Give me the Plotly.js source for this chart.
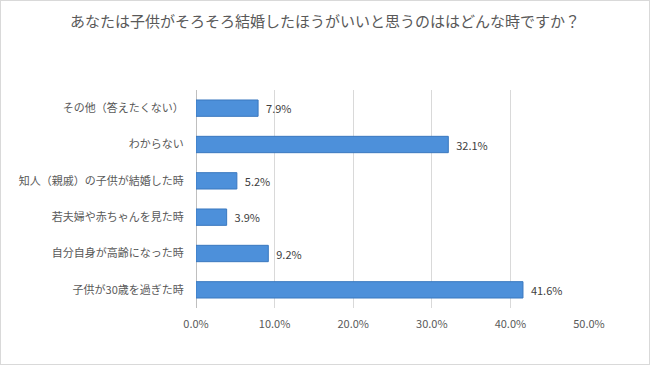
<!DOCTYPE html>
<html><head><meta charset="utf-8">
<script src="https://cdn.plot.ly/plotly-3.0.1.min.js"></script>
<style>body{margin:0;background:#fff}#wrap{position:relative;width:650px;height:365px}#frame{position:absolute;left:0;top:0;width:648px;height:363px;border:1px solid #d9d9d9;pointer-events:none}</style>
</head><body><div id="wrap"><div id="chart" style="width:650px;height:365px"></div><div id="frame"></div></div>
<script>
const categories = ["その他（答えたくない）","わからない","知人（親戚）の子供が結婚した時","若夫婦や赤ちゃんを見た時","自分自身が高齢になった時","子供が30歳を過ぎた時"];
const values = [7.9, 32.1, 5.2, 3.9, 9.2, 41.6];
const tickVals = [0,10,20,30,40,50];
const tickText = ["0.0%","10.0%","20.0%","30.0%","40.0%","50.0%"];
const titleText = "あなたは子供がそろそろ結婚したほうがいいと思うのははどんな時ですか？";
const FONT = "'Noto Sans CJK JP', 'Noto Sans', sans-serif";
Plotly.newPlot('chart', [{
  type:'bar', orientation:'h', x: values, y: categories,
  text: values.map(v=>'\u00a0\u00a0'+v.toFixed(1)+'%'), textposition:'outside', cliponaxis:false,
  textfont:{size:11,color:'#404040',family:FONT},
  marker:{color:'#4d90da', line:{color:'#3a78bf', width:1}},
  hoverinfo:'none'
}], {
  width:650, height:365,
  margin:{l:196,r:61,t:90,b:57},
  bargap:0.55,
  paper_bgcolor:'#fff', plot_bgcolor:'#fff',
  font:{family:FONT,color:'#595959',size:11},
  title:{text:titleText, x:0.5, xanchor:'center', y:0.94, yanchor:'middle', font:{size:15,color:'#595959',family:FONT}},
  xaxis:{range:[0,50], tickvals:tickVals, ticktext:tickText, showgrid:true, gridcolor:'#d9d9d9', gridwidth:1,
    zeroline:true, zerolinecolor:'#bfbfbf', showline:false, ticks:'outside', ticklen:6, tickcolor:'rgba(0,0,0,0)', tickfont:{size:11,color:'#595959'}, fixedrange:true},
  yaxis:{autorange:'reversed', showgrid:false, zeroline:false, showline:false, ticks:'outside', ticklen:9, tickcolor:'rgba(0,0,0,0)', tickfont:{size:11,color:'#595959'}, fixedrange:true},
  showlegend:false
}, {displayModeBar:false, staticPlot:true});
</script></body></html>
